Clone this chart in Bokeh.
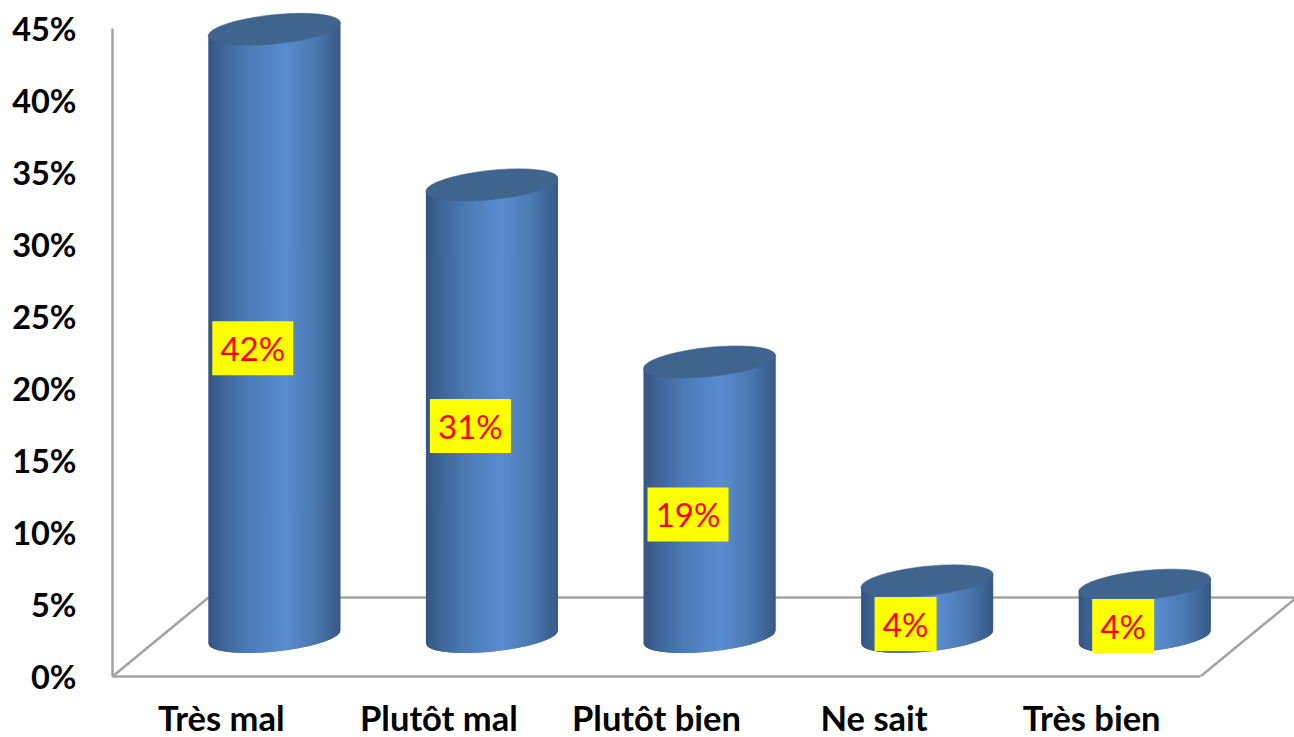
import numpy as np
from bokeh.core.properties import value
from bokeh.embed import file_html
from bokeh.models import FixedTicker, Range1d
from bokeh.plotting import figure
from bokeh.resources import INLINE

categories = ["Très mal", "Plutôt mal", "Plutôt bien", "Ne sait", "Très bien"]
values = [42.2, 31.4, 19.1, 3.9, 3.6]
point_labels = ["42%", "31%", "19%", "4%", "4%"]
y_ticks = [0, 5, 10, 15, 20, 25, 30, 35, 40, 45]

PX_X = 217.6   # pixels per category
PX_Y = 14.4    # pixels per percent
DX = 96 / PX_X
DY = 79 / PX_Y
A = 66 / PX_X
B = 14.6 / PX_Y
S = 6.5 / PX_Y
SHIFT = 5 / PX_X   # cylinders sit a little right of the floor's centre line
GRID = "#a3a3a3"
FONT = "Lato"

p = figure(width=1294, height=737, frame_width=1182, frame_height=676,
           min_border_left=112, min_border_right=0, min_border_top=0, min_border_bottom=61,
           x_range=Range1d(-0.5, -0.5 + 1182 / PX_X), y_range=Range1d(0, 676 / PX_Y),
           output_backend="svg", toolbar_location=None, background_fill_color="white",
           border_fill_color="white")
p.outline_line_color = None
p.grid.visible = False

for ax in (p.xaxis[0], p.yaxis[0]):
    ax.axis_line_color = GRID
    ax.axis_line_width = 2.5
    ax.major_tick_line_color = None
    ax.minor_tick_line_color = None
    ax.major_label_text_font = FONT
    ax.major_label_text_font_style = "bold"
    ax.major_label_text_color = "#000000"

p.yaxis[0].major_label_text_font_size = "32.5px"
p.xaxis[0].major_label_text_font_size = "34.5px"
p.yaxis[0].ticker = FixedTicker(ticks=y_ticks)
p.yaxis[0].major_label_overrides = {t: f"{t}%" for t in y_ticks}
p.yaxis[0].bounds = (0, 45)
p.yaxis[0].major_label_standoff = 30
p.xaxis[0].ticker = FixedTicker(ticks=list(range(len(categories))))
p.xaxis[0].major_label_overrides = {i: c for i, c in enumerate(categories)}
p.xaxis[0].bounds = (-0.5, 4.5)
p.xaxis[0].major_label_standoff = 14

# floor of the 3-D box
p.multi_line(xs=[[-0.5, -0.5 + DX], [-0.5 + DX, 4.5 + DX], [4.5, 4.5 + DX]],
             ys=[[0, DY], [DY, DY], [0, DY]], line_color=GRID, line_width=2.5)

# shading across a cylinder, left edge to right edge
stops_t = [0.0, 0.08, 0.3, 0.58, 0.8, 1.0]
stops_c = np.array([[0x33, 0x55, 0x80], [0x3c, 0x62, 0x93], [0x4b, 0x7a, 0xb5],
                    [0x5a, 0x8c, 0xd0], [0x4b, 0x79, 0xb2], [0x35, 0x5a, 0x86]], dtype=float)


def shade(t):
    rgb = [np.interp(t, stops_t, stops_c[:, k]) for k in range(3)]
    return "#%02x%02x%02x" % tuple(int(round(v)) for v in rgb)


N = 66
edges = np.linspace(-1, 1, N + 1)
step = edges[1] - edges[0]
for i, v in enumerate(values):
    cx = i + DX / 2 + SHIFT
    base = DY / 2
    top = base + v
    xs, ys, cols = [], [], []
    for u1 in edges[:-1]:
        # each strip runs under the next one, so no seams show
        us = np.linspace(u1, min(u1 + 2 * step, 1), 5)
        low = base + S * us - B * np.sqrt(np.clip(1 - us ** 2, 0, 1))
        up = top + S * us[::-1]
        xs.append(np.r_[cx + A * us, cx + A * us[::-1]].tolist())
        ys.append(np.r_[low, up].tolist())
        cols.append(shade((u1 + step / 2 + 1) / 2))
    p.patches(xs, ys, fill_color=cols, line_color=None)
    th = np.linspace(0, 2 * np.pi, 121)
    p.patch(cx + A * np.cos(th), top + S * np.cos(th) + B * np.sin(th),
            fill_color="#3f658f", line_color="#3f658f", line_width=0.6)

# data labels
lab_x = [i + DX / 2 + SHIFT - 21.5 / PX_X for i in range(len(values))]
lab_y = [DY / 2 + v / 2 - 15 / PX_Y for v in values]
lab_w = [(24 + 19 * len(s)) / PX_X for s in point_labels]
p.rect(lab_x, lab_y, width=lab_w, height=54 / PX_Y, fill_color="#ffff00", line_color=None)
p.text(lab_x, lab_y, text=point_labels, text_color="#ff0000", text_align="center",
       text_baseline="middle", text_font=value(FONT), text_font_size="33px")

open("out.html", "w").write(file_html(p, INLINE))
